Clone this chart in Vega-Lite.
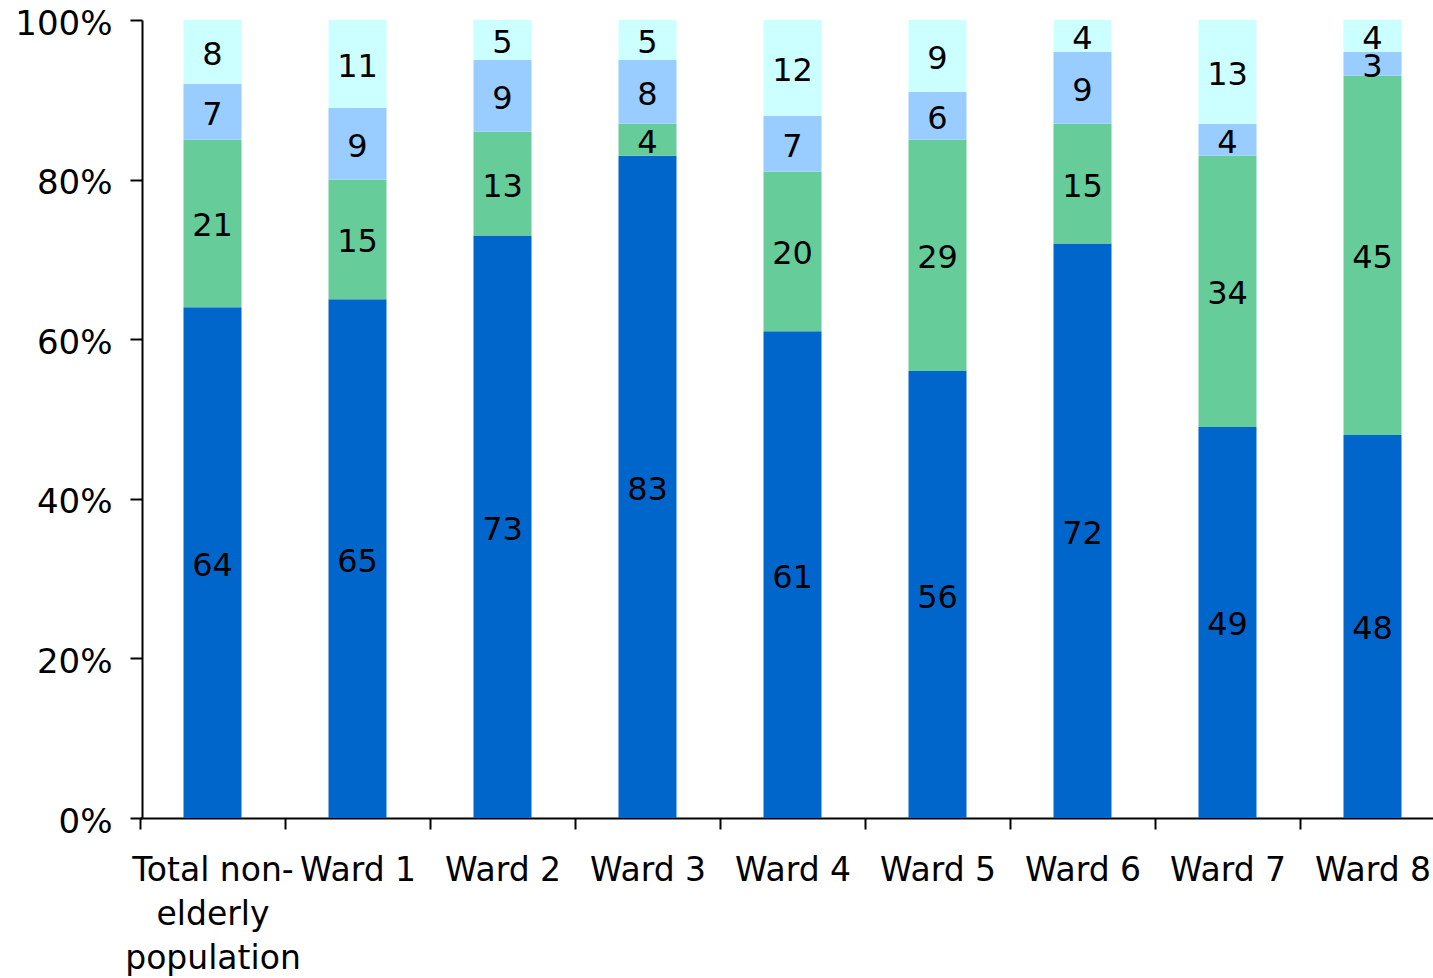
{
  "$schema": "https://vega.github.io/schema/vega-lite/v6.json",
  "width": 1291,
  "height": 798,
  "autosize": {"type": "none"},
  "padding": {"left": 142, "top": 20, "right": 0, "bottom": 160},
  "config": {"view": {"stroke": null}, "font": "DejaVu Sans"},
  "data": {
    "values": [
      {"cat": "Total non-elderly population", "s": "A", "k": 1, "v": 64},
      {"cat": "Total non-elderly population", "s": "B", "k": 2, "v": 21},
      {"cat": "Total non-elderly population", "s": "C", "k": 3, "v": 7},
      {"cat": "Total non-elderly population", "s": "D", "k": 4, "v": 8},
      {"cat": "Ward 1", "s": "A", "k": 1, "v": 65},
      {"cat": "Ward 1", "s": "B", "k": 2, "v": 15},
      {"cat": "Ward 1", "s": "C", "k": 3, "v": 9},
      {"cat": "Ward 1", "s": "D", "k": 4, "v": 11},
      {"cat": "Ward 2", "s": "A", "k": 1, "v": 73},
      {"cat": "Ward 2", "s": "B", "k": 2, "v": 13},
      {"cat": "Ward 2", "s": "C", "k": 3, "v": 9},
      {"cat": "Ward 2", "s": "D", "k": 4, "v": 5},
      {"cat": "Ward 3", "s": "A", "k": 1, "v": 83},
      {"cat": "Ward 3", "s": "B", "k": 2, "v": 4},
      {"cat": "Ward 3", "s": "C", "k": 3, "v": 8},
      {"cat": "Ward 3", "s": "D", "k": 4, "v": 5},
      {"cat": "Ward 4", "s": "A", "k": 1, "v": 61},
      {"cat": "Ward 4", "s": "B", "k": 2, "v": 20},
      {"cat": "Ward 4", "s": "C", "k": 3, "v": 7},
      {"cat": "Ward 4", "s": "D", "k": 4, "v": 12},
      {"cat": "Ward 5", "s": "A", "k": 1, "v": 56},
      {"cat": "Ward 5", "s": "B", "k": 2, "v": 29},
      {"cat": "Ward 5", "s": "C", "k": 3, "v": 6},
      {"cat": "Ward 5", "s": "D", "k": 4, "v": 9},
      {"cat": "Ward 6", "s": "A", "k": 1, "v": 72},
      {"cat": "Ward 6", "s": "B", "k": 2, "v": 15},
      {"cat": "Ward 6", "s": "C", "k": 3, "v": 9},
      {"cat": "Ward 6", "s": "D", "k": 4, "v": 4},
      {"cat": "Ward 7", "s": "A", "k": 1, "v": 49},
      {"cat": "Ward 7", "s": "B", "k": 2, "v": 34},
      {"cat": "Ward 7", "s": "C", "k": 3, "v": 4},
      {"cat": "Ward 7", "s": "D", "k": 4, "v": 13},
      {"cat": "Ward 8", "s": "A", "k": 1, "v": 48},
      {"cat": "Ward 8", "s": "B", "k": 2, "v": 45},
      {"cat": "Ward 8", "s": "C", "k": 3, "v": 3},
      {"cat": "Ward 8", "s": "D", "k": 4, "v": 4}
    ]
  },
  "transform": [
    {"stack": "v", "groupby": ["cat"], "sort": [{"field": "k", "order": "ascending"}], "offset": "normalize", "as": ["y0", "y1"]},
    {"calculate": "(datum.y0 + datum.y1) / 2", "as": "ym"}
  ],
  "encoding": {
    "x": {
      "field": "cat",
      "type": "nominal",
      "sort": null,
      "scale": {"paddingInner": 0.6, "paddingOuter": 0.3, "range": [-2, 1303]},
      "axis": {
        "title": null,
        "labelAngle": 0,
        "labelFontSize": 33,
        "labelColor": "#000000",
        "labelPadding": 25,
        "labelLineHeight": 44,
        "labelBaseline": "top",
        "labelLimit": 0,
        "labelOverlap": false,
        "labelBound": false,
        "labelExpr": "datum.label == 'Total non-elderly population' ? ['Total non-', 'elderly', 'population'] : datum.label",
        "ticks": true,
        "tickOffset": -72.5,
        "labelOffset": 72.5,
        "tickSize": 11,
        "tickWidth": 2,
        "tickColor": "#000000",
        "domainColor": "#000000",
        "domainWidth": 2,
        "grid": false
      }
    }
  },
  "layer": [
    {
      "mark": {"type": "bar"},
      "encoding": {
        "y": {
          "field": "y0",
          "type": "quantitative",
          "scale": {"domain": [0, 1]},
          "axis": {
            "title": null,
            "format": "%",
            "values": [0, 0.2, 0.4, 0.6, 0.8, 1],
            "grid": false,
            "labelFontSize": 34,
            "labelColor": "#000000",
            "labelPadding": 18,
            "labelOffset": 4,
            "tickSize": 12,
            "tickWidth": 2,
            "tickColor": "#000000",
            "domainColor": "#000000",
            "domainWidth": 2
          }
        },
        "y2": {"field": "y1"},
        "color": {
          "field": "s",
          "type": "nominal",
          "scale": {"domain": ["A", "B", "C", "D"], "range": ["#0066CC", "#66CC99", "#99CCFF", "#CCFFFF"]},
          "legend": null
        }
      }
    },
    {
      "mark": {"type": "text", "fontSize": 32, "baseline": "middle", "align": "center", "color": "#000000", "dy": 3},
      "encoding": {
        "y": {"field": "ym", "type": "quantitative"},
        "text": {"field": "v", "type": "quantitative"}
      }
    }
  ]
}
